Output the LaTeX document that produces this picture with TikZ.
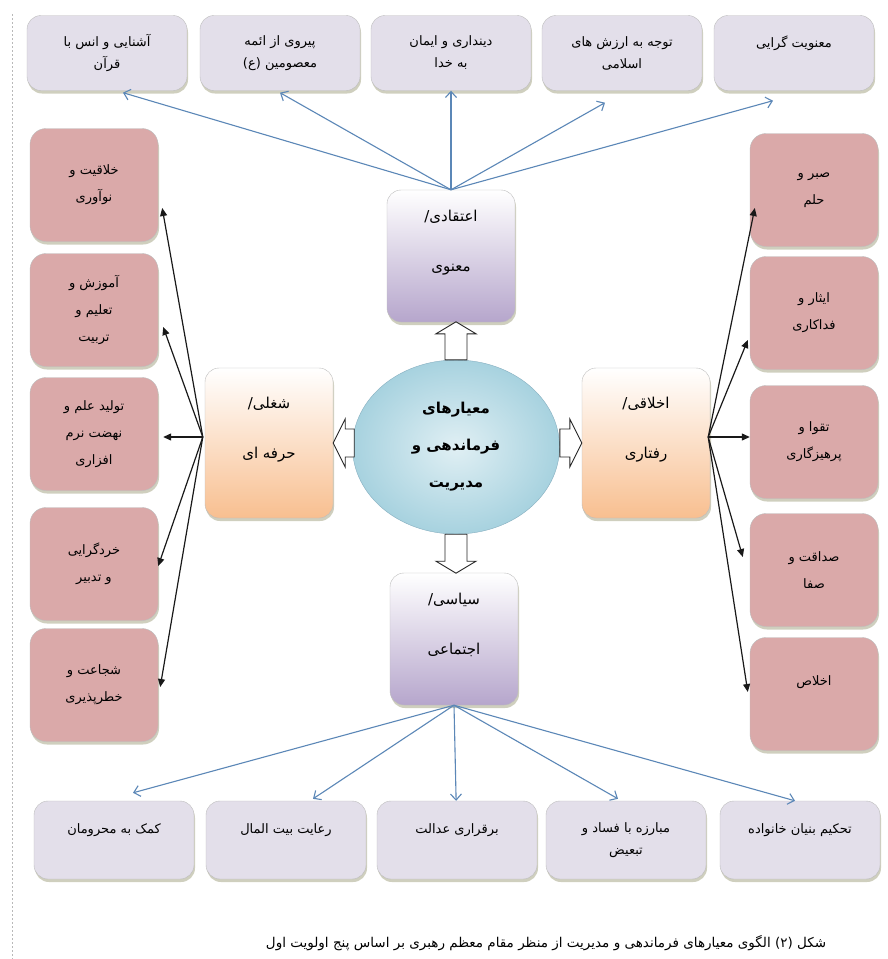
\documentclass[tikz,border=0pt]{standalone}
\usepackage{fontspec}
\usepackage{xcolor}
\newfontfamily\arabicfont[Script=Arabic]{DejaVu Sans}
\TeXXeTstate=1
\usetikzlibrary{positioning, calc, shapes.geometric, shadows, arrows.meta}

\newcommand{\fatext}[1]{{\arabicfont\beginR #1\endR}}

\definecolor{rowfill}{HTML}{E3DFEA}
\definecolor{rowline}{HTML}{BDBDBD}
\definecolor{shadowkhaki}{HTML}{A0A07E}
\definecolor{pinkfill}{HTML}{DAA9A9}
\definecolor{lilac}{HTML}{B6A6CC}
\definecolor{peach}{HTML}{F8BF90}
\definecolor{ballblue}{HTML}{A7D2DF}
\definecolor{ballline}{HTML}{86AFC0}
\definecolor{steel}{HTML}{5B87B7}

\tikzset{
  rowbox/.style={draw=rowline, fill=rowfill, rounded corners=14pt, minimum width=160pt, minimum height=75pt,
    align=center, font=\fontsize{13}{22}\selectfont,
    drop shadow={fill=shadowkhaki, shadow xshift=1pt, shadow yshift=-3pt}},
  pinkbox/.style={draw=rowline, fill=pinkfill, rounded corners=16pt, minimum width=128pt, minimum height=113pt,
    align=center, font=\fontsize{13}{27}\selectfont,
    drop shadow={fill=shadowkhaki, shadow xshift=1pt, shadow yshift=-3pt}},
  catbox/.style={draw=rowline, rounded corners=14pt, minimum width=128pt, align=center, text depth=30pt,
    font=\fontsize{15}{50}\selectfont,
    drop shadow={fill=shadowkhaki, shadow xshift=1pt, shadow yshift=-3pt}},
  catlilac/.style={catbox, top color=white, bottom color=lilac, minimum height=132pt},
  catpeach/.style={catbox, top color=white, bottom color=peach, minimum height=150pt},
  corenode/.style={ellipse, draw=ballline, inner color=ballblue!35, outer color=ballblue, minimum width=207pt,
    minimum height=174pt, align=center, font=\fontsize{15}{37}\selectfont\bfseries},
  blockline/.style={draw=black!85, fill=white, line width=0.9pt, line join=miter},
  bluearrow/.style={draw=steel, line width=1.1pt, -{Straight Barb[length=6pt, width=11pt]}},
  blackarrow/.style={draw=black!90, line width=1.2pt, -{Triangle[length=8pt, width=7pt]}},
  captext/.style={font=\fontsize{13.5}{16}\selectfont}
}

\begin{document}
\begin{tikzpicture}[x=1pt, y=-1pt]
\useasboundingbox (0,0) rectangle (887,959);
\fill[white] (0,0) rectangle (887,959);
\draw[gray!55, dash pattern=on 2pt off 2pt] (12,14) -- (12,959);

% top row
\node[rowbox] (t1) at (107,53) {\fatext{آشنایی و انس با}\\\fatext{قرآن}};
\node[rowbox] (t2) at (280,53) {\fatext{پیروی از ائمه}\\\fatext{معصومین (ع)}};
\node[rowbox] (t3) at (451,53) {\fatext{دینداری و ایمان}\\\fatext{به خدا}};
\node[rowbox] (t4) at (622,53) {\fatext{توجه به ارزش های}\\\fatext{اسلامی}};
\node[rowbox] (t5) at (794,53) {\fatext{معنویت گرایی}\\\mbox{}};

% left column
\node[pinkbox] (l1) at (94,185) {\fatext{خلاقیت و}\\\fatext{نوآوری}};
\node[pinkbox] (l2) at (94,310) {\fatext{آموزش و}\\\fatext{تعلیم و}\\\fatext{تربیت}};
\node[pinkbox] (l3) at (94,434) {\fatext{تولید علم و}\\\fatext{نهضت نرم}\\\fatext{افزاری}};
\node[pinkbox] (l4) at (94,564) {\fatext{خردگرایی}\\\fatext{و تدبیر}};
\node[pinkbox] (l5) at (94,685) {\fatext{شجاعت و}\\\fatext{خطرپذیری}};

% right column
\node[pinkbox] (r1) at (814,190) {\fatext{صبر و}\\\fatext{حلم}};
\node[pinkbox] (r2) at (814,313) {\fatext{ایثار و}\\\fatext{فداکاری}};
\node[pinkbox] (r3) at (814,442) {\fatext{تقوا و}\\\fatext{پرهیزگاری}};
\node[pinkbox] (r4) at (814,570) {\fatext{صداقت و}\\\fatext{صفا}};
\node[pinkbox] (r5) at (814,694) {\fatext{اخلاص}\\\mbox{}};

% bottom row
\node[rowbox, minimum height=78pt] (b1) at (114,840) {\fatext{کمک به محرومان}\\\mbox{}};
\node[rowbox, minimum height=78pt] (b2) at (286,840) {\fatext{رعایت بیت المال}\\\mbox{}};
\node[rowbox, minimum height=78pt] (b3) at (457,840) {\fatext{برقراری عدالت}\\\mbox{}};
\node[rowbox, minimum height=78pt] (b4) at (626,840) {\fatext{مبارزه با فساد و}\\\fatext{تبعیض}};
\node[rowbox, minimum height=78pt] (b5) at (800,840) {\fatext{تحکیم بنیان خانواده}\\\mbox{}};

% centre and the four groups
\node[corenode] (core) at (456,447) {\fatext{معیارهای}\\\fatext{فرماندهی و}\\\fatext{مدیریت}};
\node[catlilac] (cT) at (451,256) {\fatext{اعتقادی/}\\\fatext{معنوی}};
\node[catlilac] (cB) at (454,639) {\fatext{سیاسی/}\\\fatext{اجتماعی}};
\node[catpeach] (cL) at (269,443) {\fatext{شغلی/}\\\fatext{حرفه ای}};
\node[catpeach] (cR) at (646,443) {\fatext{اخلاقی/}\\\fatext{رفتاری}};

% hollow block arrows
\draw[blockline] (core.north) ++(-11,0) -- ++(0,-26) -- ++(-9,0) -- ++(20,-12) -- ++(20,12) -- ++(-9,0) -- ++(0,26) -- cycle;
\draw[blockline] (core.south) ++(-11,0) -- ++(0,27) -- ++(-9,0) -- ++(20,12) -- ++(20,-12) -- ++(-9,0) -- ++(0,-27) -- cycle;
\draw[blockline] (cL.east) -- ++(12,-24) -- ++(0,10) -- ++(9,0) -- ++(0,28) -- ++(-9,0) -- ++(0,10) -- cycle;
\draw[blockline] (cR.west) -- ++(-12,-24) -- ++(0,10) -- ++(-10,0) -- ++(0,28) -- ++(10,0) -- ++(0,10) -- cycle;

\coordinate (hubL) at ($(cL.west)+(-2,-6)$);
\coordinate (hubR) at ($(cR.east)+(-2,-6)$);

% blue links
\draw[bluearrow] (cT.north) -- ($(t1.south)+(16,2)$);
\draw[bluearrow] (cT.north) -- ($(t2.south)+(0,2)$);
\draw[bluearrow] (cT.north) -- (t3);
\draw[bluearrow] (cT.north) -- ($(t4.south)+(-17,12)$);
\draw[bluearrow] (cT.north) -- ($(t5.south)+(-21,10)$);
\draw[bluearrow] (cB.south) -- ($(b1.north)+(19,-8)$);
\draw[bluearrow] (cB.south) -- ($(b2.north)+(27,-2)$);
\draw[bluearrow] (cB.south) -- (b3);
\draw[bluearrow] (cB.south) -- ($(b4.north)+(-8,-2)$);
\draw[bluearrow] (cB.south) -- ($(b5.north)+(-5,0)$);

% black links
\draw[blackarrow] (hubL) -- ($(l1.east)+(4,23)$);
\draw[blackarrow] (hubL) -- ($(l2.east)+(5,17)$);
\draw[blackarrow] (hubL) -- ($(l3.east)+(5,3)$);
\draw[blackarrow] (hubL) -- ($(l4.east)+(0,2)$);
\draw[blackarrow] (hubL) -- ($(l5.east)+(2,2)$);
\draw[blackarrow] (hubR) -- ($(r1.west)+(5,18)$);
\draw[blackarrow] (hubR) -- ($(r2.west)+(-2,27)$);
\draw[blackarrow] (hubR) -- ($(r3.west)+(0,-5)$);
\draw[blackarrow] (hubR) -- ($(r4.west)+(-7,-13)$);
\draw[blackarrow] (hubR) -- ($(r5.west)+(-2,-2)$);

\node[captext] (cap) at (546,943) {\fatext{شکل (۲) الگوی معیارهای فرماندهی و مدیریت از منظر مقام معظم رهبری بر اساس پنج اولویت اول}};
\end{tikzpicture}
\end{document}
